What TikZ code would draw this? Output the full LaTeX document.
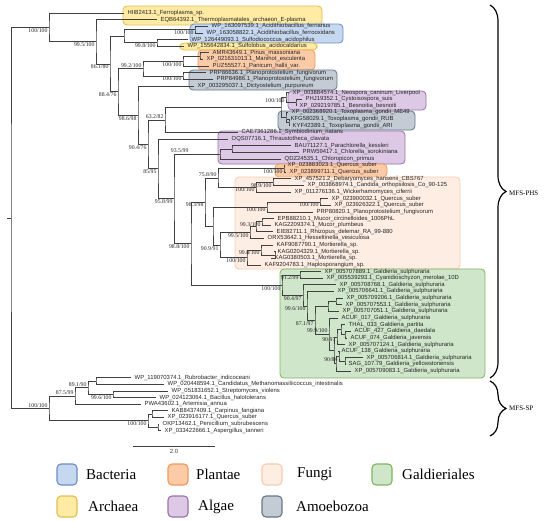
\documentclass[tikz,border=0pt]{standalone}
\usepackage{fontspec}
\setmainfont{Liberation Serif}
\setsansfont{Liberation Sans}
\usetikzlibrary{calc,decorations.pathreplacing}

\definecolor{bactF}{HTML}{C5D8F0}
\definecolor{bactD}{HTML}{6C8EBF}
\definecolor{archF}{HTML}{FFEBA3}
\definecolor{archD}{HTML}{E3BE50}
\definecolor{plantF}{HTML}{FBCBA8}
\definecolor{plantD}{HTML}{EE9A5C}
\definecolor{algF}{HTML}{DDC9E6}
\definecolor{algD}{HTML}{9673A6}
\definecolor{fungF}{HTML}{FDEDE3}
\definecolor{fungD}{HTML}{F6CBAE}
\definecolor{amoF}{HTML}{C3CBD4}
\definecolor{amoD}{HTML}{66778A}
\definecolor{galF}{HTML}{CFE6CA}
\definecolor{galD}{HTML}{7DB560}

\tikzset{
  leaf/.style={anchor=west, inner ysep=0pt, inner xsep=4pt, text height=4.2pt, text depth=1.2pt,
    font=\sffamily\fontsize{5.9}{6}\selectfont, text=black!85},
  boot/.style={anchor=north east, yshift=-0.6pt, inner sep=0.3pt, font=\fontsize{5.8}{6}\selectfont, text=black!85},
  bootup/.style={boot, anchor=south east, yshift=1.2pt},
  limb/.style={line width=0.7pt, black!75},
  clbox/.style={rounded corners=4pt, line width=0.8pt},
  legbox/.style={rounded corners=4pt, line width=1.1pt},
  legtext/.style={anchor=west, inner sep=0pt, font=\fontsize{15}{16}\selectfont},
  grp/.style={anchor=west, inner sep=0pt, font=\fontsize{7}{8}\selectfont}
}

% clade: [label style], name, x, upper child, lower child, support
\newcommand\clade[6][boot]{%
  \path let \p1=($(#4)!.5!(#5)$) in coordinate (#2) at (#3pt,\y1);
  \draw[limb] (#4) -| (#2) |- (#5);
  \node[#1] at ([xshift=-1pt]#2) {#6};}

\begin{document}
\begin{tikzpicture}[x=1pt,y=-1pt]
\useasboundingbox (0,0) rectangle (550,522);

% clade boxes
\draw[clbox, fill=archF, draw=archD] (123,6) rectangle (322,25);
\draw[clbox, fill=bactF, draw=bactD] (190,24) rectangle (343,43);
\draw[clbox, fill=archF, draw=archD] (180,43) rectangle (317,50);
\draw[clbox, fill=plantF, draw=plantD] (198,50) rectangle (315,70);
\draw[clbox, fill=amoF, draw=amoD] (189,70) rectangle (337,90);
\draw[clbox, fill=algF, draw=algD] (288,91) rectangle (426,110);
\draw[clbox, fill=amoF, draw=amoD] (278,111) rectangle (415,130);
\draw[clbox, fill=algF, draw=algD] (218,131) rectangle (405,164);
\draw[clbox, fill=plantF, draw=plantD] (275,164) rectangle (387,177);
\draw[clbox, fill=fungF, draw=fungD] (235,177) rectangle (460,269);
\draw[clbox, fill=galF, draw=galD] (280,269) rectangle (485,378);

% tips
\foreach \i/\x/\lab in {
  1/128/HII82413.1\_Ferroplasma\_sp.,
  2/161/EQB64392.1\_Thermoplasmatales\_archaeon\_E-plasma,
  3/212/WP\_163097539.1\_Acidithiobacillus\_ferriarius,
  4/207/WP\_163058822.1\_Acidithiobacillus\_ferrooxidans,
  5/192/WP\_126449093.1\_Sulfodiococcus\_acidophilus,
  6/188/WP\_155642834.1\_Sulfolobus\_acidocaldarius,
  7/213/AMR43649.1\_Pinus\_massoniana,
  8/207/XP\_021631013.1\_Manihot\_esculenta,
  9/213/PUZ55527.1\_Panicum\_hallii\_var.,
  10/210/PRP86636.1\_Planoprotostelium\_fungivorum,
  11/217/PRP84986.1\_Planoprotostelium\_fungivorum,
  12/198/XP\_003295037.1\_Dictyostelium\_purpureum,
  13/293/XP\_003884574.1\_Neospora\_caninum\_Liverpool,
  14/306/PHJ19352.1\_Cystoisospora\_suis,
  15/300/XP\_029219785.1\_Besnoitia\_besnoiti,
  16/292/XP\_002368920.1\_Toxoplasma\_gondii\_ME49,
  17/291/KFG58029.1\_Toxoplasma\_gondii\_RUB,
  18/293/KYF42389.1\_Toxoplasma\_gondii\_ARI,
  19/242/CAE7361286.1\_Symbiodinium\_natans,
  20/232/OQS07716.1\_Thraustotheca\_clavata,
  21/295/BAU71127.1\_Parachlorella\_kessleri,
  22/303/PRW59417.1\_Chlorella\_sorokiniana,
  23/285/QDZ24535.1\_Chloropicon\_primus,
  24/288/XP\_023883023.1\_Quercus\_suber,
  25/290/XP\_023899711.1\_Quercus\_suber,
  26/295/XP\_457521.2\_Debaryomyces\_hansenii\_CBS767,
  27/308/XP\_003868974.1\_Candida\_orthopsilosis\_Co\_90-125,
  28/295/XP\_011276136.1\_Wickerhamomyces\_ciferrii,
  29/332/XP\_023900032.1\_Quercus\_suber,
  30/335/XP\_023926322.1\_Quercus\_suber,
  31/317/PRP80820.1\_Planoprotostelium\_fungivorum,
  32/278/EPB88210.1\_Mucor\_circinelloides\_1006PhL,
  33/275/KAG2209374.1\_Mucor\_plumbeus,
  34/277/EIE82711.1\_Rhizopus\_delemar\_RA\_99-880,
  35/268/ORX53642.1\_Hesseltinella\_vesiculosa,
  36/277/KAF9087790.1\_Mortierella\_sp.,
  37/278/KAG0204329.1\_Mortierella\_sp.,
  38/275/KAG0380503.1\_Mortierella\_sp.,
  39/265/KAF9204783.1\_Haplosporangium\_sp.,
  40/325/XP\_005707889.1\_Galdieria\_sulphuraria,
  41/327/XP\_005539293.1\_Cyanidioschyzon\_merolae\_10D,
  42/340/XP\_005708768.1\_Galdieria\_sulphuraria,
  43/338/XP\_005706641.1\_Galdieria\_sulphuraria,
  44/347/XP\_005709206.1\_Galdieria\_sulphuraria,
  45/346/XP\_005707553.1\_Galdieria\_sulphuraria,
  46/343/XP\_005707051.1\_Galdieria\_sulphuraria,
  47/342/ACUF\_017\_Galdieria\_sulphuraria,
  48/349/THAL\_033\_Galdieria\_partita,
  49/355/ACUF\_427\_Galdieria\_daedala,
  50/351/ACUF\_074\_Galdieria\_javensis,
  51/349/XP\_005707124.1\_Galdieria\_sulphuraria,
  52/342/ACUF\_138\_Galdieria\_sulphuraria,
  53/367/XP\_005706814.1\_Galdieria\_sulphuraria,
  54/349/SAG\_107.79\_Galdieria\_yellowstonensis,
  55/355/XP\_005709083.1\_Galdieria\_sulphuraria,
  56/135/WP\_119070374.1\_Rubrobacter\_indicoceani,
  57/168/WP\_020448594.1\_Candidatus\_Methanomassiliicoccus\_intestinalis,
  58/172/WP\_051831652.1\_Streptomyces\_violens,
  59/160/WP\_024123064.1\_Bacillus\_halotolerans,
  60/145/PWA43602.1\_Artemisia\_annua,
  61/172/KAB8437409.1\_Carpinus\_fangiana,
  62/168/XP\_023916177.1\_Quercus\_suber,
  63/163/OKP13462.1\_Penicillium\_subrubescens,
  64/165/XP\_033422666.1\_Aspergillus\_tanneri}
  \node[leaf] (t\i) at ({\x-4.5},{13+(\i-1)*6.63}) {\lab};

% archaea, bacteria, plants, amoebozoa
\clade{nAcid}{195}{t3}{t4}{100/100}
\clade{nSulf}{157}{t5}{t6}{99.8/100}
\clade{nBact}{124}{nAcid}{nSulf}{}
\clade{nPlB}{200}{t7}{t8}{}
\clade{nPl}{183}{nPlB}{t9}{100/100}
\clade{nAm}{183}{t10}{t11}{100/100}
\clade[bootup]{nPA}{143}{nPl}{nAm}{99.2/100}

% alveolates and algae
\clade{nNeoB}{296}{t14}{t15}{}
\clade{nNeo}{286}{t13}{nNeoB}{100/100}
\clade{nToxB}{289}{t17}{t18}{}
\clade{nTox}{286}{t16}{nToxB}{}
\clade{nApi}{281}{nNeo}{nTox}{}
\clade{nChB}{232}{t21}{t22}{}
\clade{nCh}{220}{nChB}{t23}{}

% fungi
\clade{nQa}{284}{t24}{t25}{100/100}
\clade{nYa}{273}{t26}{t27}{98.9/100}
\clade{nYb}{256}{nYa}{t28}{100/100}
\clade[bootup]{nQY}{218}{nQa}{nYb}{75.8/90}
\clade{nQb}{320}{t29}{t30}{100/100}
\clade{nQP}{267}{nQb}{t31}{100/100}
\clade{nMuA}{262}{t32}{t33}{99.3/100}
\clade{nMuB}{256}{nMuA}{t34}{}
\clade{nMu}{250}{nMuB}{t35}{99.5/100}
\clade{nMoA}{275}{t37}{t38}{}
\clade{nMoB}{261}{t36}{nMoA}{99.8/100}
\clade{nMo}{247}{nMoB}{t39}{100/100}
\clade{nMM}{220}{nMu}{nMo}{90.9/91}
\clade{nQPM}{213}{nQP}{nMM}{}
\clade{nFun}{205}{nQY}{nQPM}{98.3/98}

% Galdieriales
\clade{gA}{300}{t40}{t41}{91.2/99}
\clade{gB}{336}{t44}{t45}{}
\clade{gC}{328}{gB}{t46}{}
\clade{gP1}{345}{t49}{t50}{}
\clade{gP2}{341}{t48}{gP1}{}
\clade{gP3}{337}{gP2}{t51}{90/97}
\clade{gQ1}{345}{t53}{t54}{}
\clade{gQ2}{339}{t52}{gQ1}{90/84}
\clade{gQ3}{336}{gQ2}{t55}{}
\clade{gR}{334}{gP3}{gQ3}{}
\clade[bootup]{gL}{329}{t47}{gR}{99.9/100}
\clade{gM}{315}{gC}{gL}{87.1/97}
\clade{gN}{307}{t43}{gM}{99.6/100}
\clade{gO}{303}{t42}{gN}{90.4/97}
\clade{gAll}{282}{gA}{gO}{100/100}

% backbone
\clade{nB7}{191}{nFun}{gAll}{98.8/100}
\clade{nB6}{174}{nCh}{nB7}{95.8/99}
\node[bootup] at ([xshift=-1pt]nCh -| 190,0) {93.5/99};
\clade{nB5}{158}{t20}{nB6}{85/95}
\clade[bootup]{nB4}{165}{nApi}{t19}{63.2/82}
\clade{nB3}{148}{nB4}{nB5}{90.4/76}
\clade{nB2}{138}{t12}{nB3}{98.6/98}
\clade{nB1}{118}{nPA}{nB2}{88.4/76}
\clade{nB0}{110}{nBact}{nB1}{86.1/80}
\clade{nArc}{96}{t2}{nB0}{99.5/100}
\clade{nTop}{49}{t1}{nArc}{100/100}

% MFS-SP part
\clade{sA}{96}{t56}{t57}{}
\clade{sB}{113}{t58}{t59}{99.6/100}
\clade[bootup]{sC}{88}{sA}{sB}{89.1/90}
\clade[bootup]{sD}{75}{sC}{t60}{87.5/99}
\clade{sE}{152}{t61}{t62}{}
\clade{sF}{158}{t63}{t64}{}
\clade{sG}{148}{sE}{sF}{100/100}
\clade[bootup]{sSP}{49}{sD}{sG}{100/100}
\clade{root}{11}{nTop}{sSP}{}
\draw[limb] (root) -- ++(-4,0);

% scale bar
\draw[limb] (133,446) -- (215,446) node[midway, below=3pt, inner sep=0pt, font=\sffamily\fontsize{6}{7}\selectfont] {2.0};

% groups
\draw[decorate, decoration={brace, amplitude=16pt}, line width=1.2pt] (490,5) -- (490,378);
\draw[decorate, decoration={brace, amplitude=16pt}, line width=1.2pt] (490,381) -- (490,436);
\node[grp] at (509,193) {MFS-PHS};
\node[grp] at (509,408) {MFS-SP};

% legend
\foreach \c/\x/\tx/\y/\lab in {bact/57/86/464/Bacteria, plant/168/196/464/Plantae,
    fung/262/297/464/Fungi, gal/372/402/464/Galdieriales, arch/57/88/496/Archaea,
    alg/168/198/496/Algae, amo/262/296/496/Amoebozoa}{
  \draw[legbox, fill=\c F, draw=\c D] (\x,\y) rectangle ++(20,21);
  \node[legtext] at (\tx,\y+10.5) {\lab};
}
\end{tikzpicture}
\end{document}
